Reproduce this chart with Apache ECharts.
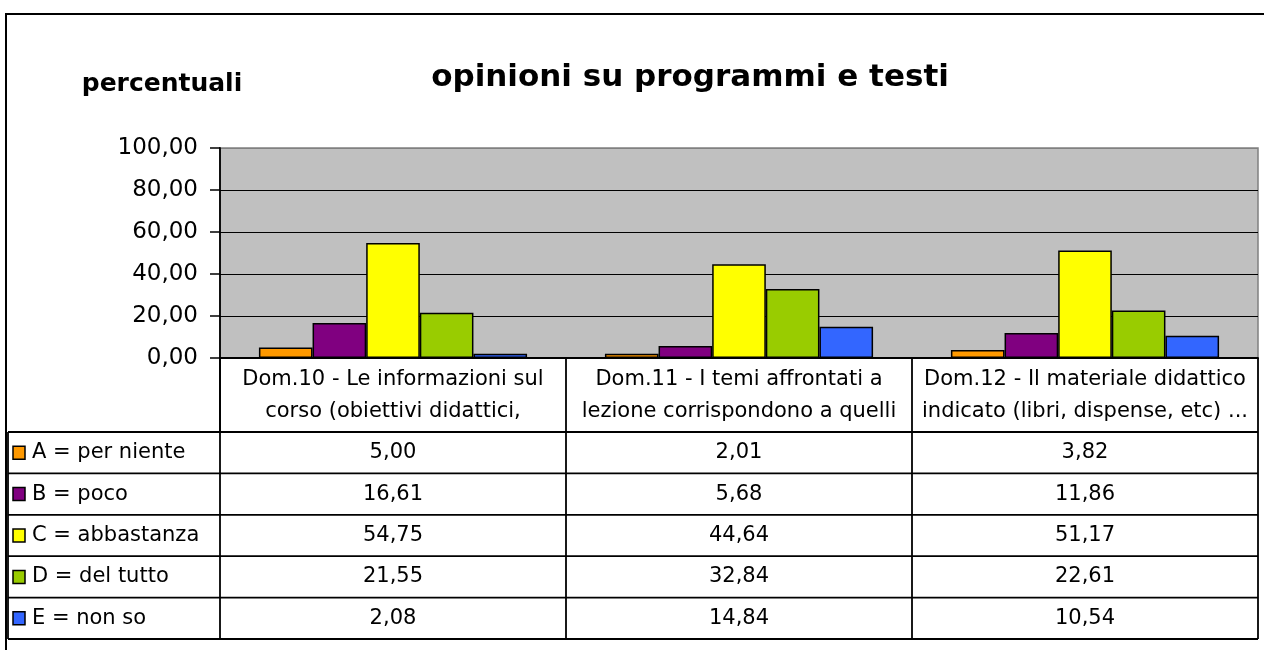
<!DOCTYPE html>
<html>
<head>
<meta charset="utf-8">
<script src="https://cdn.jsdelivr.net/npm/echarts@6/dist/echarts.min.js"></script>
<style>
  html, body { margin: 0; padding: 0; background: #fff; }
  #myChart { width: 1264px; height: 650px; }
</style>
</head>
<body>
<div id="myChart"></div>
<script>
// dati
const categories = [
  "Dom.10 - Le informazioni sul\ncorso (obiettivi didattici,",
  "Dom.11 - I temi affrontati a\nlezione corrispondono a quelli",
  "Dom.12 - Il materiale didattico\nindicato (libri, dispense, etc) ..."
];
const seriesNames = ["A = per niente", "B = poco", "C = abbastanza", "D = del tutto", "E = non so"];
const serieA = [5.00, 2.01, 3.82];
const serieB = [16.61, 5.68, 11.86];
const serieC = [54.75, 44.64, 51.17];
const serieD = [21.55, 32.84, 22.61];
const serieE = [2.08, 14.84, 10.54];
const yTicks = [0, 20, 40, 60, 80, 100];

const colors = ["#FF9900", "#800080", "#FFFF00", "#99CC00", "#3366FF"];
const values = [serieA, serieB, serieC, serieD, serieE];
const font = "DejaVu Sans";

// layout
const gridLeft = 220, gridTop = 148, gridW = 1038, gridH = 210;
const tableLeft = 8, tableTop = 432, rowH = 41.4;
const colW = gridW / categories.length;
const tableBottom = tableTop + rowH * seriesNames.length;

const fmt = (v) => v.toFixed(2).replace(".", ",");

function line(x1, y1, x2, y2) {
  return { type: "line", shape: { x1, y1, x2, y2 }, style: { stroke: "#000", lineWidth: 1.8 }, silent: true };
}

function buildTable() {
  let els = [];
  // contorno esterno
  els.push({ type: "rect", shape: { x: 6, y: 14, width: 1300, height: 700 },
    style: { fill: "none", stroke: "#000", lineWidth: 2 }, z: -1, silent: true });
  for (let r = 0; r <= seriesNames.length; r++) {
    let y = tableTop + r * rowH;
    els.push(line(tableLeft, y, gridLeft + gridW, y));
  }
  els.push(line(tableLeft, tableTop, tableLeft, tableBottom));
  els.push(line(gridLeft, gridTop + gridH, gridLeft, tableBottom));
  for (let c = 1; c <= categories.length; c++) {
    let x = gridLeft + c * colW;
    els.push(line(x, tableTop, x, tableBottom));
  }
  seriesNames.forEach((name, r) => {
    let cy = tableTop + r * rowH + rowH / 2;
    els.push({ type: "rect", shape: { x: 13, y: cy - 6.5, width: 12, height: 13 },
      style: { fill: colors[r], stroke: "#000", lineWidth: 1.5 }, silent: true });
    els.push({ type: "text", x: 32, y: cy,
      style: { text: name, font: "21px '" + font + "'", fill: "#000", textVerticalAlign: "middle" }, silent: true });
    values[r].forEach((v, c) => {
      els.push({ type: "text", x: gridLeft + c * colW + colW / 2, y: cy,
        style: { text: fmt(v), font: "21px '" + font + "'", fill: "#000", textAlign: "center", textVerticalAlign: "middle" }, silent: true });
    });
  });
  return els;
}

let chart = echarts.init(document.getElementById("myChart"));
let option = {
  animation: false,
  title: [
    {
      text: "opinioni su programmi e testi",
      left: 685, top: 57, textAlign: "center",
      textStyle: { fontFamily: font, fontSize: 31, fontWeight: "bold", color: "#000" }
    },
    {
      text: "percentuali",
      left: 157, top: 67, textAlign: "center",
      textStyle: { fontFamily: font, fontSize: 25, fontWeight: "bold", color: "#000" }
    }
  ],
  grid: {
    left: gridLeft, top: gridTop, width: gridW, height: gridH,
    show: true, backgroundColor: "#C0C0C0", borderColor: "#808080", borderWidth: 1.5
  },
  xAxis: {
    type: "category",
    data: categories,
    axisLine: { lineStyle: { color: "#000", width: 1.8 } },
    axisTick: { show: true, length: tableTop - gridTop - gridH, lineStyle: { color: "#000", width: 1.8 } },
    axisLabel: { interval: 0, fontFamily: font, fontSize: 21, lineHeight: 32, margin: 6, color: "#000" }
  },
  yAxis: {
    type: "value",
    min: yTicks[0], max: yTicks[yTicks.length - 1], interval: 20,
    axisLine: { show: true, lineStyle: { color: "#000", width: 1.8 } },
    axisTick: { show: true, length: 10, lineStyle: { color: "#000", width: 1.5 } },
    axisLabel: { formatter: fmt, fontFamily: font, fontSize: 23, margin: 22, color: "#000" },
    // la linea a 100 resta il bordo grigio dell'area
    splitLine: { lineStyle: { color: ["#000", "#000", "#000", "#000", "#000", "#808080"], width: 1.2 } }
  },
  series: seriesNames.map((name, i) => ({
    type: "bar",
    name: name,
    data: values[i],
    barGap: 0,
    barCategoryGap: "22.5%",
    itemStyle: { color: colors[i], borderColor: "#000", borderWidth: 1.5 }
  })),
  graphic: buildTable()
};
chart.setOption(option);
</script>
</body>
</html>
